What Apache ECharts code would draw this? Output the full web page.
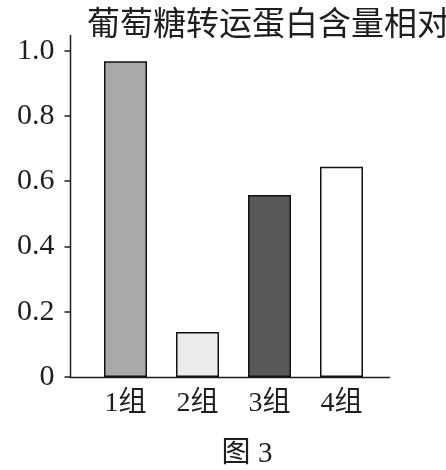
<!DOCTYPE html>
<html>
<head>
<meta charset="utf-8">
<script src="https://cdn.jsdelivr.net/npm/echarts@6/dist/echarts.min.js"></script>
<style>html,body{margin:0;padding:0;background:#fff}#c{width:446px;height:470px}</style>
</head>
<body>
<div id="c"></div>
<script>
const categories = ['1组', '2组', '3组', '4组'];
const values = [0.968, 0.138, 0.558, 0.644];
const barColors = ['#a9a9a9', '#ececec', '#585858', '#ffffff'];
const yTicks = [0, 0.2, 0.4, 0.6, 0.8, 1.0];
const titleText = '葡萄糖转运蛋白含量相对';
const captionText = '图 3';

const chart = echarts.init(document.getElementById('c'), null, {renderer: 'canvas'});
const ink = '#1e1e1e';
const serif = '"Liberation Serif", "Times New Roman", serif';
const cjk = '"Liberation Serif", "Noto Sans CJK SC", serif';
chart.setOption({
  backgroundColor: '#ffffff',
  animation: false,
  title: {
    text: titleText,
    left: 82, top: 1,
    textStyle: {fontFamily: '"Noto Sans CJK SC"', fontSize: 33, fontWeight: 'normal', color: ink}
  },
  grid: {left: 89.5, right: 68.5, top: 50.7, bottom: 93},
  xAxis: {
    type: 'category',
    data: categories,
    axisLine: {show: false},
    axisTick: {show: false},
    axisLabel: {margin: 13, fontSize: 28, color: ink, fontFamily: cjk}
  },
  yAxis: {
    type: 'value',
    min: 0, max: 1, interval: 0.2,
    offset: 19,
    splitLine: {show: false},
    axisLine: {show: false},
    axisTick: {show: true, length: 6, inside: false, lineStyle: {color: ink, width: 1.5}},
    axisLabel: {
      margin: 16, fontSize: 30, color: ink, fontFamily: serif,
      formatter: v => (v === 0 ? '0' : v.toFixed(1))
    }
  },
  series: [{
    type: 'bar',
    barWidth: 43,
    data: values.map((v, i) => ({value: v, itemStyle: {color: barColors[i]}})),
    itemStyle: {borderColor: '#111', borderWidth: 1.5}
  }],
  graphic: [
    {type: 'line', shape: {x1: 70.5, y1: 35, x2: 70.5, y2: 377.5}, style: {stroke: ink, lineWidth: 1.5}},
    {type: 'line', shape: {x1: 70, y1: 377.5, x2: 390, y2: 377.5}, style: {stroke: ink, lineWidth: 1.5}},
    {type: 'text', x: 247, y: 454, style: {text: captionText, fontSize: 29, fontFamily: cjk, fill: ink, align: 'center', verticalAlign: 'middle'}}
  ]
});
</script>
</body>
</html>
